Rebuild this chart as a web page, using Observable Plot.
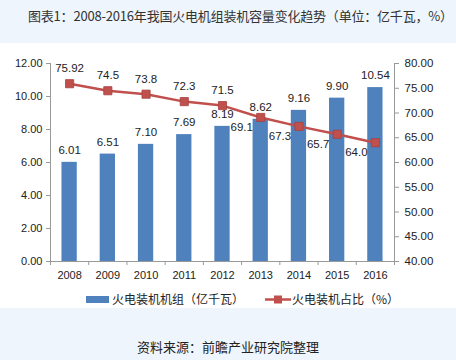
<!DOCTYPE html>
<html>
<head>
<meta charset="utf-8">
<script src="https://cdn.jsdelivr.net/npm/d3@7"></script>
<script src="https://cdn.jsdelivr.net/npm/@observablehq/plot@0.6"></script>
<style>
  body { margin: 0; background: #eef5fc; width: 456px; height: 360px; overflow: hidden;
         font-family: "Liberation Sans", Arial, "Noto Sans CJK SC", sans-serif; }
  #title { height: 43px; box-sizing: border-box; padding: 6px 0 0 28px; font-size: 13px; color: #333;
           font-family: "Noto Sans CJK SC", sans-serif; white-space: nowrap; letter-spacing: -0.2px; }
  #panel { background: #fff; height: 265px; }
  #legend { position: relative; height: 17px; font-size: 12px; color: #222; font-family: "Noto Sans CJK SC", sans-serif; }
  #caption { text-align: center; font-size: 13px; color: #222; padding-top: 29px; font-family: "Noto Sans CJK SC", sans-serif; }
  svg text { fill: #222; }
</style>
</head>
<body>
<div id="title">图表1：2008-2016年我国火电机组装机容量变化趋势（单位：亿千瓦，%）</div>
<div id="panel">
  <div id="chart"></div>
  <div id="legend"></div>
</div>
<div id="caption">资料来源：前瞻产业研究院整理</div>
<script>
const years = [2008, 2009, 2010, 2011, 2012, 2013, 2014, 2015, 2016];
const capacity = [6.01, 6.51, 7.10, 7.69, 8.19, 8.62, 9.16, 9.90, 10.54];
const share = [75.92, 74.5, 73.8, 72.3, 71.5, 69.1, 67.3, 65.7, 64.0];
const shareLabels = ["75.92", "74.5", "73.8", "72.3", "71.5", "69.1", "67.3", "65.7", "64.0"];
const leftTicks = [0, 2, 4, 6, 8, 10, 12];
const rightTicks = [40, 45, 50, 55, 60, 65, 70, 75, 80];
const seriesNames = ["火电装机机组（亿千瓦）", "火电装机占比（%）"];

const blue = "#4f81bd", red = "#c0504d";
// map right axis (40..80) onto left axis (0..12)
const toLeft = v => (v - 40) / 40 * 12;
const fromLeft = v => v / 12 * 40 + 40;

const data = years.map((y, i) => ({year: y, cap: capacity[i], share: share[i], label: shareLabels[i], i}));
const above = data.filter(d => d.i < 5);
const below = data.filter(d => d.i >= 5);
const bw = 0.2;

const chart = Plot.plot({
  width: 456,
  height: 248,
  marginTop: 20,
  marginBottom: 30,
  marginLeft: 50,
  marginRight: 62,
  style: {fontFamily: "'Liberation Sans', Arial, sans-serif", fontSize: "11px", color: "#222", background: "#fff"},
  x: {domain: [years[0] - 0.5, years[years.length - 1] + 0.5], label: null},
  y: {domain: [0, 12], label: null},
  marks: [
    Plot.rectY(data, {x1: d => d.year - bw, x2: d => d.year + bw, y1: 0, y2: "cap", fill: blue}),
    Plot.line(data, {x: "year", y: d => toLeft(d.share), stroke: red, strokeWidth: 2.5}),
    Plot.dot(data, {x: "year", y: d => toLeft(d.share), symbol: "square", r: 4.6, fill: red, stroke: "#a8403d", strokeWidth: 0.8}),
    Plot.text(data, {x: "year", y: "cap", text: d => d.cap.toFixed(2), dy: -12, fontSize: 11.5}),
    Plot.text(above, {x: "year", y: d => toLeft(d.share), text: "label", dy: -15, fontSize: 11.5}),
    Plot.text(below, {x: "year", y: d => toLeft(d.share), text: "label", dx: -19, dy: 10, fontSize: 11.5}),
    Plot.axisY({ticks: leftTicks, tickFormat: d => d.toFixed(2), tickSize: 4, tickPadding: 4, stroke: "#999", fontSize: 11, label: null}),
    Plot.ruleX([years[0] - 0.5], {stroke: "#999"}),
    Plot.axisY({ticks: rightTicks.map(toLeft), anchor: "right", tickFormat: d => fromLeft(d).toFixed(2), tickSize: 4, tickPadding: 6, stroke: "#999", fontSize: 11.5, textAnchor: "start", label: null}),
    Plot.ruleX([years[years.length - 1] + 0.5], {stroke: "#999"}),
    Plot.ruleY([0], {stroke: "#999"}),
    Plot.axisX({ticks: d3.range(years[0] - 0.5, years[years.length - 1] + 1), tickFormat: () => "", tickSize: 4, stroke: "#999", label: null}),
    Plot.axisX({ticks: years, tickFormat: d => String(d), tickSize: 0, tickPadding: 10, fontSize: 11, label: null})
  ]
});
document.getElementById("chart").appendChild(chart);

// legend
const lg = d3.select("#legend");
lg.append("div").style("position", "absolute").style("left", "86px").style("top", "5px")
  .style("width", "23px").style("height", "7px").style("background", blue);
lg.append("div").style("position", "absolute").style("left", "112px").style("top", "-1px").text(seriesNames[0]);
const ls = lg.append("svg").attr("width", 28).attr("height", 17).style("position", "absolute").style("left", "264px").style("top", "0px");
ls.append("line").attr("x1", 1).attr("x2", 27).attr("y1", 8.5).attr("y2", 8.5).attr("stroke", red).attr("stroke-width", 2.5);
ls.append("rect").attr("x", 10).attr("y", 4.5).attr("width", 8).attr("height", 8).attr("fill", red);
lg.append("div").style("position", "absolute").style("left", "292px").style("top", "-1px").text(seriesNames[1]);
</script>
</body>
</html>
